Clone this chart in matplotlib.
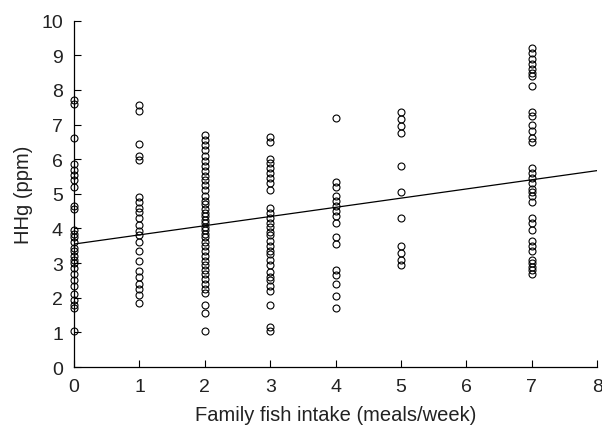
import matplotlib
matplotlib.use('Agg')
import matplotlib.pyplot as plt

plt.rcParams['font.family'] = ['Liberation Sans', 'DejaVu Sans']

# HHg (ppm) by weekly family fish meals
hhg_0 = [7.7, 7.6, 6.6, 5.85, 5.7, 5.55, 5.4, 5.2, 4.65, 4.55, 3.95, 3.85, 3.75, 3.6,
         3.45, 3.35, 3.2, 3.1, 3.0, 2.85, 2.7, 2.5, 2.35, 2.1, 1.95, 1.8, 1.7, 1.05]
hhg_1 = [7.55, 7.4, 6.45, 6.1, 5.98, 4.9, 4.77, 4.6, 4.48, 4.3, 4.1, 3.93, 3.8, 3.6,
         3.35, 3.05, 2.77, 2.6, 2.4, 2.25, 2.08, 1.85]
hhg_2 = [6.7, 6.55, 6.4, 6.25, 6.1, 5.95, 5.8, 5.65, 5.5, 5.4, 5.25, 5.1, 4.95, 4.8,
         4.7, 4.55, 4.45, 4.35, 4.25, 4.15, 4.05, 3.95, 3.85, 3.75, 3.6, 3.5, 3.35,
         3.2, 3.05, 2.95, 2.8, 2.7, 2.55, 2.4, 2.25, 2.15, 1.8, 1.55, 1.05]
hhg_3 = [6.65, 6.5, 6.0, 5.9, 5.75, 5.6, 5.45, 5.3, 5.1, 4.6, 4.45, 4.3, 4.15, 4.05,
         3.9, 3.8, 3.65, 3.5, 3.35, 3.25, 3.1, 2.95, 2.75, 2.6, 2.5, 2.35, 2.2, 1.8,
         1.15, 1.05]
hhg_4 = [7.2, 5.35, 5.2, 4.95, 4.8, 4.65, 4.5, 4.35, 4.15, 3.75, 3.55, 2.8, 2.65,
         2.4, 2.05, 1.7]
hhg_5 = [7.35, 7.15, 6.95, 6.75, 5.8, 5.05, 4.3, 3.5, 3.3, 3.1, 2.95]
hhg_7 = [9.2, 9.05, 8.9, 8.75, 8.6, 8.5, 8.4, 8.1, 7.35, 7.25, 7.0, 6.8, 6.6, 6.5,
         5.75, 5.6, 5.45, 5.3, 5.15, 5.05, 4.95, 4.75, 4.3, 4.15, 3.95, 3.65, 3.5,
         3.35, 3.1, 3.0, 2.9, 2.8, 2.7]

meals = [0, 1, 2, 3, 4, 5, 7]
columns = [hhg_0, hhg_1, hhg_2, hhg_3, hhg_4, hhg_5, hhg_7]

# regression line (intercept, slope)
fit_b0 = 3.55
fit_b1 = 0.265
fit_x = [0, 8]

fig = plt.figure(figsize=(6.02, 4.31), dpi=100)
ax = fig.add_axes([0.123, 0.146, 0.869, 0.804])

for m, vals in zip(meals, columns):
    ax.plot([m] * len(vals), vals, 'o', mfc='none', mec='black', ms=5, mew=0.8,
            clip_on=False, zorder=3)

ax.plot(fit_x, [fit_b0 + fit_b1 * x for x in fit_x], color='black', lw=0.9)

ax.set_xlim(0, 8)
ax.set_ylim(0, 10)
ax.set_xticks(range(0, 9))
ax.set_yticks(range(0, 11))
ax.spines['top'].set_visible(False)
ax.spines['right'].set_visible(False)
for s in ('left', 'bottom'):
    ax.spines[s].set_linewidth(0.9)
ax.tick_params(direction='in', length=5, width=0.8, labelsize=14, pad=8,
               labelcolor='#222222')

ax.set_xlabel('Family fish intake (meals/week)', fontsize=14.5, color='#222222',
              labelpad=7)
ax.set_ylabel('HHg (ppm)', fontsize=14.5, color='#222222', labelpad=6)

fig.savefig('out.png', dpi=100)
